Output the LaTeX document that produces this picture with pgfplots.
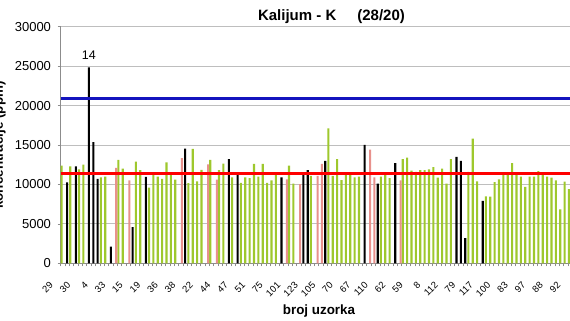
\documentclass[border=0pt]{standalone}
\usepackage{fontspec}
\setmainfont{Liberation Sans}
\usepackage{pgfplots}
\pgfplotsset{compat=1.18}

\definecolor{barG}{RGB}{158,200,45}
\definecolor{barP}{RGB}{232,145,140}
\definecolor{lineB}{RGB}{20,20,190}
\definecolor{gridG}{RGB}{190,190,190}
\definecolor{axG}{RGB}{140,140,140}

\begin{document}
\begin{tikzpicture}
  \begin{axis}[
      name=ax,
      scale only axis,
      width=511.9pt, height=236.6pt,
      xmin=-0.5, xmax=116.5,
      ymin=0, ymax=30000,
      axis lines*=left,
      axis line style={axG, line width=0.7pt},
      ymajorgrids=true,
      grid style={gridG, line width=0.8pt},
      ytick={0,5000,...,30000},
      scaled y ticks=false,
      xtick={0,4,...,116},
      xticklabels={29,30,4,33,15,19,36,38,22,44,47,51,75,101,123,105,70,67,110,62,59,8,112,79,117,100,83,97,88,92},
      minor xtick={-0.5,0.5,...,116.5},
      every major x tick/.append style={draw=none},
      tick align=outside,
      major tick length=3pt, minor tick length=3pt,
      tick style={axG, line width=0.6pt},
      /pgf/number format/set thousands separator={},
      /pgf/number format/assume math mode=true,
      y tick label style={font=\fontsize{13}{13}\selectfont, xshift=-3pt},
      x tick label style={font=\fontsize{9.5}{9.5}\selectfont, xshift=-9pt, yshift=-15pt, rotate=45, anchor=east},
    ]

    % zelene
    \addplot[ybar, bar width=2.1pt, bar shift=-1.2pt, fill=barG, draw=none] coordinates {
      (0,12400) (2,12300) (4,11900) (5,12500) (9,10900) (10,11000) (13,13100) (14,12000)
      (17,12900) (18,11800) (20,9600) (21,11400) (22,11000) (23,10700) (24,12800) (25,11300)
      (26,10600) (29,10150) (30,14500) (31,10400) (32,11850) (34,13100) (36,11800) (37,12650)
      (39,10900) (41,10200) (42,10900) (43,10800) (44,12600) (45,11000) (46,12600) (47,10200)
      (48,10500) (49,11200) (52,12400) (53,10100) (57,11100) (61,17100) (62,11100) (63,13200)
      (64,10550) (65,11200) (66,11200) (67,10900) (68,11000) (73,11000) (74,11200) (75,10800)
      (78,13200) (79,13400) (80,11750) (81,11600) (82,11800) (83,11800) (84,11900) (85,12200)
      (86,10850) (87,12000) (88,10100) (89,13200) (93,11600) (94,15800) (95,10400) (97,8500)
      (98,8450) (99,10300) (100,10650) (101,11200) (102,11200) (103,12700) (104,11200) (105,11000)
      (106,9700) (107,11000) (108,11000) (109,11700) (110,11500) (111,11000) (112,10850) (113,10500)
      (114,6850) (115,10350) (116,9400)
    };

    % crne
    \addplot[ybar, bar width=2.1pt, bar shift=0pt, fill=black, draw=none] coordinates {
      (1,10250) (3,12300) (6,24850) (7,15350) (8,10700) (11,2100) (16,4600) (19,10950)
      (28,14550) (38,13200) (40,11200) (50,10900) (55,11200) (56,11800) (60,13000) (69,15000)
      (72,10100) (76,12700) (90,13500) (91,13000) (92,3200) (96,7900)
    };

    % roze
    \addplot[ybar, bar width=2.1pt, bar shift=1.1pt, fill=barP, draw=none] coordinates {
      (12,12100) (15,10500) (27,13350) (33,12550) (35,10600) (51,10650) (54,10050) (58,11100)
      (59,12600) (70,14400) (71,10900) (77,10500)
    };

    \addplot[lineB, line width=2.6pt] coordinates {(-0.5,20870) (116.5,20870)};
    \addplot[red, line width=2.6pt] coordinates {(-0.5,11400) (116.5,11400)};

    \node[anchor=base, font=\fontsize{12.5}{12.5}\selectfont] at (axis cs:6,25840) {14};
  \end{axis}

  \node[anchor=base, font=\bfseries\fontsize{15}{15}\selectfont]
    at ([xshift=271pt, yshift=6pt]ax.north west) {Kalijum - K\hspace{21pt}(28/20)};
  \node[anchor=base, font=\bfseries\fontsize{13.4}{13.4}\selectfont]
    at ([xshift=258.5pt, yshift=-51pt]ax.south west) {broj uzorka};
  \node[anchor=base, rotate=90, font=\bfseries\fontsize{13.4}{13.4}\selectfont]
    at ([xshift=-57.5pt]ax.west) {koncentracije (ppm)};

  \pgfresetboundingbox
  \useasboundingbox ([xshift=-60.5pt, yshift=26.7pt]ax.north west)
    rectangle ([xshift=509.5pt, yshift=-57.7pt]ax.south west);
\end{tikzpicture}
\end{document}
